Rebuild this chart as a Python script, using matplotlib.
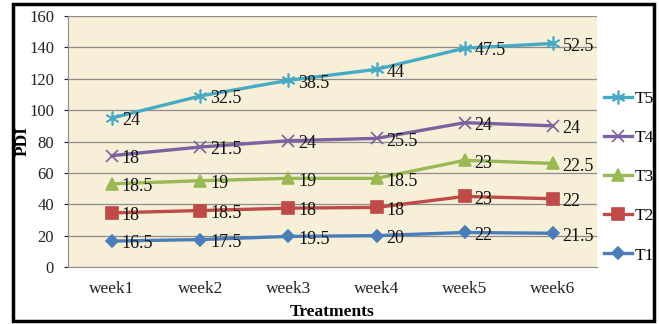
import matplotlib
matplotlib.use("Agg")
import matplotlib.pyplot as plt
import numpy as np
from matplotlib.patches import Rectangle

plt.rcParams["font.family"] = ["Liberation Serif", "DejaVu Serif"]

weeks = ["week1", "week2", "week3", "week4", "week5", "week6"]
t1 = [16.5, 17.5, 19.5, 20, 22, 21.5]
t2 = [18, 18.5, 18, 18, 23, 22]
t3 = [18.5, 19, 19, 18.5, 23, 22.5]
t4 = [18, 21.5, 24, 25.5, 24, 24]
t5 = [24, 32.5, 38.5, 44, 47.5, 52.5]

series = [
    ("T1", t1, "#4a7ebb", "D", 6),
    ("T2", t2, "#be4b48", "s", 8),
    ("T3", t3, "#98b954", "^", 8),
    ("T4", t4, "#7d60a0", "x", 8),
    ("T5", t5, "#46aac5", (6, 2, 0), 10),
]

W, H, dpi = 659, 324, 100
fig = plt.figure(figsize=(W / dpi, H / dpi), dpi=dpi)
fig.patch.set_facecolor("white")
ax = fig.add_axes([68 / W, (H - 267) / H, (597 - 68) / W, (267 - 16) / H])
ax.set_facecolor("#f8efd8")

# stacked lines: each series sits on top of the previous ones
x = np.arange(len(weeks))
base = np.zeros(len(weeks))
handles = []
for name, vals, color, marker, ms in series:
    top = base + np.array(vals)
    (ln,) = ax.plot(x, top, color=color, lw=2.4, marker=marker, ms=ms,
                    mew=1.2, mec=color, mfc=color, label=name, zorder=3)
    handles.append(ln)
    for xi, yi, v in zip(x, top, vals):
        ax.annotate(f"{v:g}", (xi, yi), xytext=(7, -2), textcoords="offset points",
                    ha="left", va="center", fontsize=13, color="#111111", zorder=4)
    base = top

ax.set_xlim(-0.5, len(weeks) - 0.5)
ax.set_ylim(0, 160)
ax.set_yticks(np.arange(0, 161, 20))
ax.set_xticks(x)
ax.set_xticklabels(weeks)
ax.tick_params(axis="y", labelsize=12, colors="#222222", length=3, pad=7)
ax.tick_params(axis="x", labelsize=12.5, colors="#222222", length=0, pad=10)
ax.yaxis.grid(True, color="#8c8c8c", lw=0.9, zorder=1)
ax.set_axisbelow(True)
for s in ["top", "right"]:
    ax.spines[s].set_visible(False)
for s in ["left", "bottom"]:
    ax.spines[s].set_color("#8c8c8c")

ax.set_ylabel("PDI", fontsize=12.5, fontweight="bold")
ax.yaxis.set_label_coords(-0.071, 0.5)
ax.set_xlabel("Treatments", fontsize=12.5, fontweight="bold", labelpad=5)

leg = fig.legend(handles[::-1], [h.get_label() for h in handles[::-1]],
                 loc="center left", bbox_to_anchor=(604 / W, (H - 177) / H),
                 frameon=False, fontsize=12.5, handlelength=1.6,
                 labelspacing=1.33, handletextpad=0.15,
                 borderpad=0, borderaxespad=0)

fig.patches.append(Rectangle((13 / W, 3 / H), 641 / W, 317 / H, transform=fig.transFigure,
                             fill=False, edgecolor="black", lw=2.5))

fig.savefig("out.png", dpi=dpi)
